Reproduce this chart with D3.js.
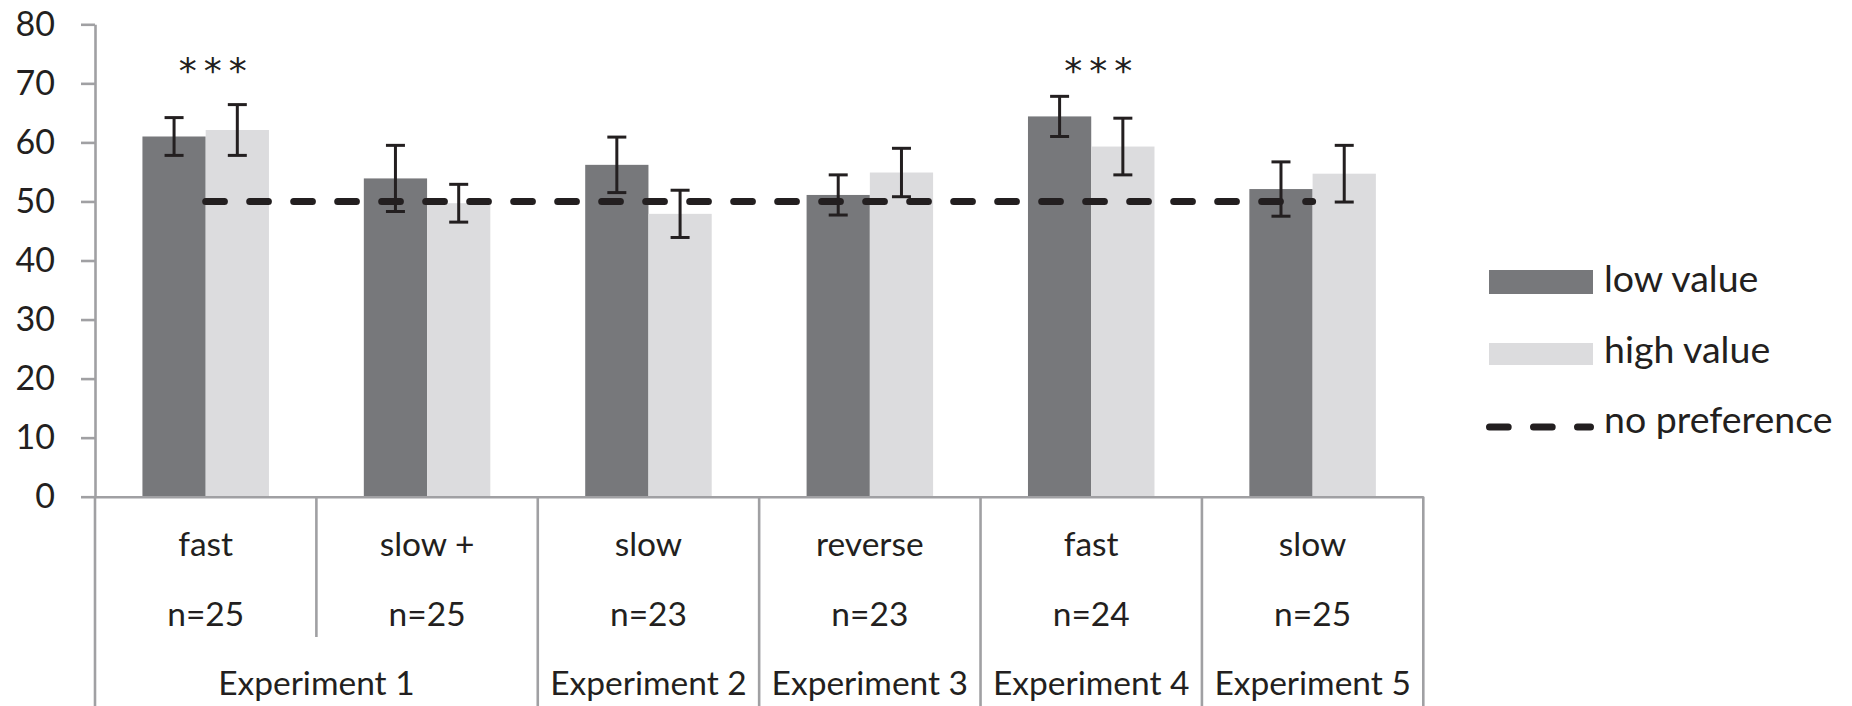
<!DOCTYPE html>
<html>
<head>
<meta charset="utf-8">
<script src="https://cdn.jsdelivr.net/npm/d3@7"></script>
<style>
  html, body { margin: 0; padding: 0; background: #ffffff; }
  svg { display: block; }
  text { font-family: Lato, "Open Sans", sans-serif; fill: #231f20; }
</style>
</head>
<body>
<svg id="chart" width="1852" height="706"></svg>
<script>
// ---- data ----
const conditions   = ["fast", "slow +", "slow", "reverse", "fast", "slow"];
const sampleSizes  = ["n=25", "n=25", "n=23", "n=23", "n=24", "n=25"];
const experiments  = ["Experiment 1", "Experiment 1", "Experiment 2", "Experiment 3", "Experiment 4", "Experiment 5"];
const lowValue     = [61.0, 53.9, 56.2, 51.1, 64.4, 52.1];
const highValue    = [62.1, 49.7, 47.9, 54.9, 59.3, 54.7];
const lowError     = [3.2, 5.6, 4.7, 3.4, 3.4, 4.6];
const highError    = [4.3, 3.2, 4.0, 4.1, 4.8, 4.8];
const significance = ["***", "", "", "", "***", ""];
const noPreference = 50;
const yTicks       = [0, 10, 20, 30, 40, 50, 60, 70, 80];
const seriesNames  = ["low value", "high value"];
const legendLine   = "no preference";

// ---- layout ----
const svg = d3.select("#chart");
const plotLeft = 95, plotRight = 1423.3, plotTop = 24.3, plotBottom = 496.7, plotFloor = 706;
const colors = { "low value": "#77787b", "high value": "#dcdcde" };
const axisColor = "#a0a0a3";
const ink = "#231f20";

const ids = conditions.map((c, i) => i);
const x = d3.scaleBand().domain(ids).range([plotLeft, plotRight]).padding(0);
const xs = d3.scaleBand().domain(seriesNames).range([0, x.bandwidth()])
  .paddingInner(0).paddingOuter(0.75);
const y = d3.scaleLinear().domain([0, 80]).range([plotBottom, plotTop]);

// bars
const rows = ids.map(i => ({
  i,
  vals: [
    { s: "low value", v: lowValue[i], e: lowError[i] },
    { s: "high value", v: highValue[i], e: highError[i] }
  ]
}));

const g = svg.append("g");
const grp = g.selectAll("g.grp").data(rows).join("g")
  .attr("class", "grp")
  .attr("transform", d => `translate(${x(d.i)},0)`);

grp.selectAll("rect").data(d => d.vals).join("rect")
  .attr("x", d => xs(d.s))
  .attr("width", xs.bandwidth())
  .attr("y", d => y(d.v))
  .attr("height", d => y(0) - y(d.v))
  .attr("fill", d => colors[d.s]);

// y axis
const yAxis = d3.axisLeft(y).tickValues(yTicks).tickSize(14).tickSizeOuter(0).tickPadding(26);
const ya = svg.append("g").attr("transform", `translate(${plotLeft},0)`).call(yAxis);
ya.select(".domain").attr("stroke", axisColor).attr("stroke-width", 2.6);
ya.selectAll(".tick line").attr("stroke", axisColor).attr("stroke-width", 2.6);
ya.selectAll(".tick text").attr("font-size", 34).attr("fill", ink)
  .style("font-family", "Lato, 'Open Sans', sans-serif");

// x axis baseline
const xAxis = d3.axisBottom(x).tickValues([]).tickSizeOuter(0);
const xa = svg.append("g").attr("transform", `translate(0,${y(0)})`).call(xAxis);
xa.select(".domain").attr("stroke", axisColor).attr("stroke-width", 2.6);

// category dividers
const dividers = [];
ids.forEach(i => {
  const sameExp = i > 0 && experiments[i] === experiments[i - 1];
  dividers.push({ xv: x(i), full: !sameExp });
});
dividers.push({ xv: x(ids[ids.length - 1]) + x.bandwidth(), full: true });
svg.append("g").selectAll("line").data(dividers).join("line")
  .attr("x1", d => d.xv).attr("x2", d => d.xv)
  .attr("y1", y(0)).attr("y2", d => d.full ? plotFloor : 637)
  .attr("stroke", axisColor).attr("stroke-width", 2.6);

// condition + n labels
svg.append("g").selectAll("text").data(ids).join("text")
  .attr("x", i => x(i) + x.bandwidth() / 2).attr("y", 556)
  .attr("text-anchor", "middle").attr("font-size", 33.5)
  .text(i => conditions[i]);
svg.append("g").selectAll("text").data(ids).join("text")
  .attr("x", i => x(i) + x.bandwidth() / 2).attr("y", 625.5)
  .attr("text-anchor", "middle").attr("font-size", 33.5)
  .text(i => sampleSizes[i]);

// experiment labels (spans)
const spans = [];
ids.forEach(i => {
  if (i > 0 && experiments[i] === experiments[i - 1]) spans[spans.length - 1].end = i;
  else spans.push({ name: experiments[i], start: i, end: i });
});
svg.append("g").selectAll("text").data(spans).join("text")
  .attr("x", d => (x(d.start) + x(d.end) + x.bandwidth()) / 2).attr("y", 694.5)
  .attr("text-anchor", "middle").attr("font-size", 33.5)
  .text(d => d.name);

// dashed no-preference line
const dash = "18.7,25.3";
svg.append("line")
  .attr("x1", x(ids[0]) + x.bandwidth() / 2)
  .attr("x2", x(ids[ids.length - 1]) + x.bandwidth() / 2)
  .attr("y1", y(noPreference)).attr("y2", y(noPreference))
  .attr("stroke", ink).attr("stroke-width", 7)
  .attr("stroke-dasharray", dash).attr("stroke-linecap", "round");

// error bars
const capW = 19;
const eb = grp.selectAll("g.err").data(d => d.vals).join("g").attr("class", "err")
  .attr("transform", d => `translate(${xs(d.s) + xs.bandwidth() / 2},0)`);
eb.append("line").attr("x1", 0).attr("x2", 0)
  .attr("y1", d => y(d.v + d.e)).attr("y2", d => y(d.v - d.e))
  .attr("stroke", ink).attr("stroke-width", 3);
eb.append("line").attr("x1", -capW / 2).attr("x2", capW / 2)
  .attr("y1", d => y(d.v + d.e)).attr("y2", d => y(d.v + d.e))
  .attr("stroke", ink).attr("stroke-width", 3);
eb.append("line").attr("x1", -capW / 2).attr("x2", capW / 2)
  .attr("y1", d => y(d.v - d.e)).attr("y2", d => y(d.v - d.e))
  .attr("stroke", ink).attr("stroke-width", 3);

// significance stars
svg.append("g").selectAll("text").data(ids.filter(i => significance[i])).join("text")
  .attr("x", i => x(i) + x.bandwidth() / 2 + 10.5).attr("y", 83)
  .attr("text-anchor", "middle").attr("font-size", 36)
  .attr("letter-spacing", 7)
  .style("font-family", "'DejaVu Sans', sans-serif")
  .attr("fill", "#3a3a3c")
  .text(i => significance[i]);

// legend
const lg = svg.append("g");
const legendItems = [
  { name: seriesNames[0], type: "rect", cy: 282, h: 24 },
  { name: seriesNames[1], type: "rect", cy: 354, h: 22 },
  { name: legendLine, type: "dash", cy: 427, h: 7 }
];
const baselines = [292, 363, 433];
legendItems.forEach((it, k) => {
  if (it.type === "rect") {
    lg.append("rect").attr("x", 1489).attr("width", 104)
      .attr("y", it.cy - it.h / 2).attr("height", it.h)
      .attr("fill", colors[it.name]);
  } else {
    lg.append("line").attr("x1", 1489.5).attr("x2", 1590.5)
      .attr("y1", it.cy).attr("y2", it.cy)
      .attr("stroke", ink).attr("stroke-width", 7)
      .attr("stroke-dasharray", dash).attr("stroke-linecap", "round");
  }
  lg.append("text").attr("x", 1604).attr("y", baselines[k])
    .attr("font-size", 37.5).text(it.name);
});
</script>
</body>
</html>
